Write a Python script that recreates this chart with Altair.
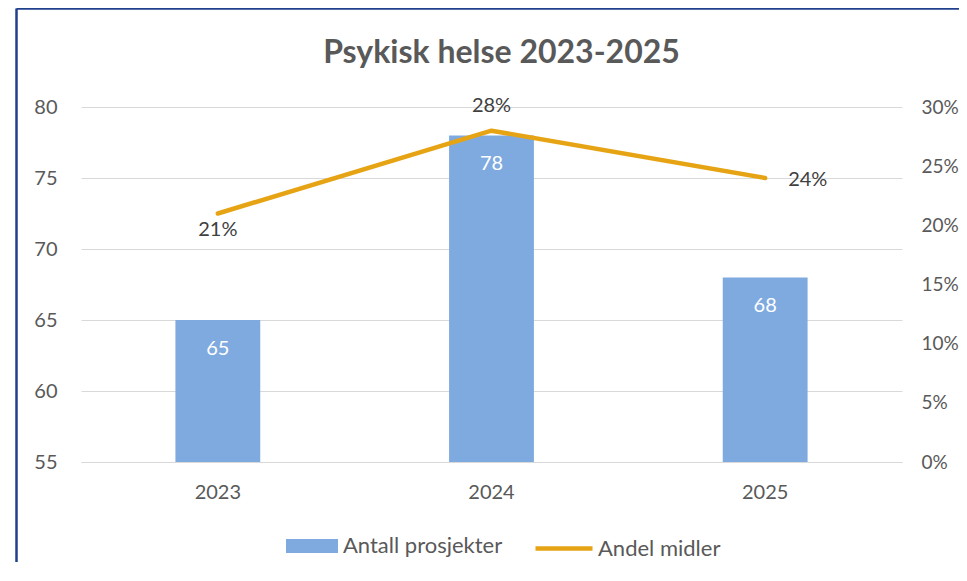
import altair as alt
import pandas as pd

# ---- data ----
years = ["2023", "2024", "2025"]
projects = [65, 78, 68]
shares = [0.21, 0.28, 0.24]
left_ticks = [55, 60, 65, 70, 75, 80]
right_ticks = [0, 0.05, 0.10, 0.15, 0.20, 0.25, 0.30]
y_min = 55

df = pd.DataFrame({"year": years, "projects": projects, "share": shares})

FONT = "Lato"
GRAY = "#595959"
DARK = "#404040"
BAR = "#7FAAE0"
LINE = "#E6A414"
BORDER = "#203F8C"
FS = 20

x_enc = alt.X(
    "year:N",
    title=None,
    scale=alt.Scale(paddingInner=0.69, paddingOuter=0.345),
    axis=alt.Axis(labelAngle=0, ticks=False, domain=True, domainColor="#D9D9D9",
                  labelFontSize=FS, labelColor=GRAY, labelFont=FONT, labelPadding=20),
)

base = alt.Chart(df)

bar = base.transform_calculate(bar_series="'Antall prosjekter'").mark_bar().encode(
    y2=alt.datum(y_min),
    fill=alt.Fill(
        "bar_series:N",
        scale=alt.Scale(range=[BAR]),
        legend=alt.Legend(
            title=None, orient="none", legendX=205, legendY=413, padding=0,
            symbolType="M-1,-0.27H1V0.27H-1Z", symbolSize=2704, symbolStrokeWidth=0,
            labelFontSize=22, labelColor=GRAY, labelFont=FONT, labelOffset=5,
        ),
    ),
)
bar_text = base.mark_text(color="white", fontSize=FS, font=FONT, baseline="middle", dy=29).encode(
    text=alt.Text("projects:Q")
)

bars = alt.layer(bar, bar_text).encode(
    x=x_enc,
    y=alt.Y(
        "projects:Q",
        title=None,
        scale=alt.Scale(domain=[55, 80], zero=False, nice=False),
        axis=alt.Axis(orient="left", values=left_ticks, grid=True, gridColor="#D9D9D9",
                      ticks=False, tickSize=0, domain=False, labelFontSize=FS, labelColor=GRAY,
                      labelFont=FONT, labelPadding=24, labelAlign="right"),
    ),
)

line = base.transform_calculate(line_series="'Andel midler'").mark_line(
    strokeWidth=4.5, strokeCap="round", strokeJoin="round"
).encode(
    stroke=alt.Stroke(
        "line_series:N",
        scale=alt.Scale(range=[LINE]),
        legend=alt.Legend(
            title=None, orient="none", legendX=452, legendY=410.5, padding=0,
            symbolType="stroke", symbolSize=3249, symbolStrokeWidth=4.5,
            labelFontSize=22, labelColor=GRAY, labelFont=FONT, labelOffset=3,
        ),
    )
)

def share_label(year, **kw):
    return base.transform_filter(alt.datum.year == year).mark_text(
        color=DARK, fontSize=FS, font=FONT, baseline="middle", **kw
    ).encode(text=alt.Text("share:Q", format=".0%"))

t1 = share_label("2023", dy=16)
t2 = share_label("2024", dy=-25)
t3 = share_label("2025", align="left", dx=23, dy=2)

lines = alt.layer(line, t1, t2, t3).encode(
    x=x_enc,
    y=alt.Y(
        "share:Q",
        title=None,
        scale=alt.Scale(domain=[0, 0.30], nice=False),
        axis=alt.Axis(orient="right", values=right_ticks, format=".0%", grid=False,
                      ticks=False, tickSize=0, domain=False, labelFontSize=19, labelColor=GRAY,
                      labelFont=FONT, labelPadding=19),
    ),
)

one = pd.DataFrame({"k": [0]})
border_left = alt.Chart(one).mark_rule(color=BORDER, strokeWidth=2.5).encode(
    x=alt.value(-64.5), y=alt.value(-98.5), y2=alt.value(460)
)
border_top = alt.Chart(one).mark_rule(color=BORDER, strokeWidth=2.5).encode(
    x=alt.value(-64.5), x2=alt.value(886), y=alt.value(-98.5)
)

chart = alt.layer(border_left, border_top, bars, lines).resolve_scale(
    y="independent"
).properties(
    width=821,
    height=355,
    autosize=alt.AutoSizeParams(type="none"),
    padding={"left": 73, "top": 99, "right": 57, "bottom": 100},
    title=alt.Title("Psykisk helse 2023-2025", fontSize=32, font=FONT, fontWeight="bold",
                    color=GRAY, anchor="middle", offset=-63, dx=10),
).configure_view(stroke=None)

chart.save("out.html", embed_options={"renderer": "svg", "actions": False})
